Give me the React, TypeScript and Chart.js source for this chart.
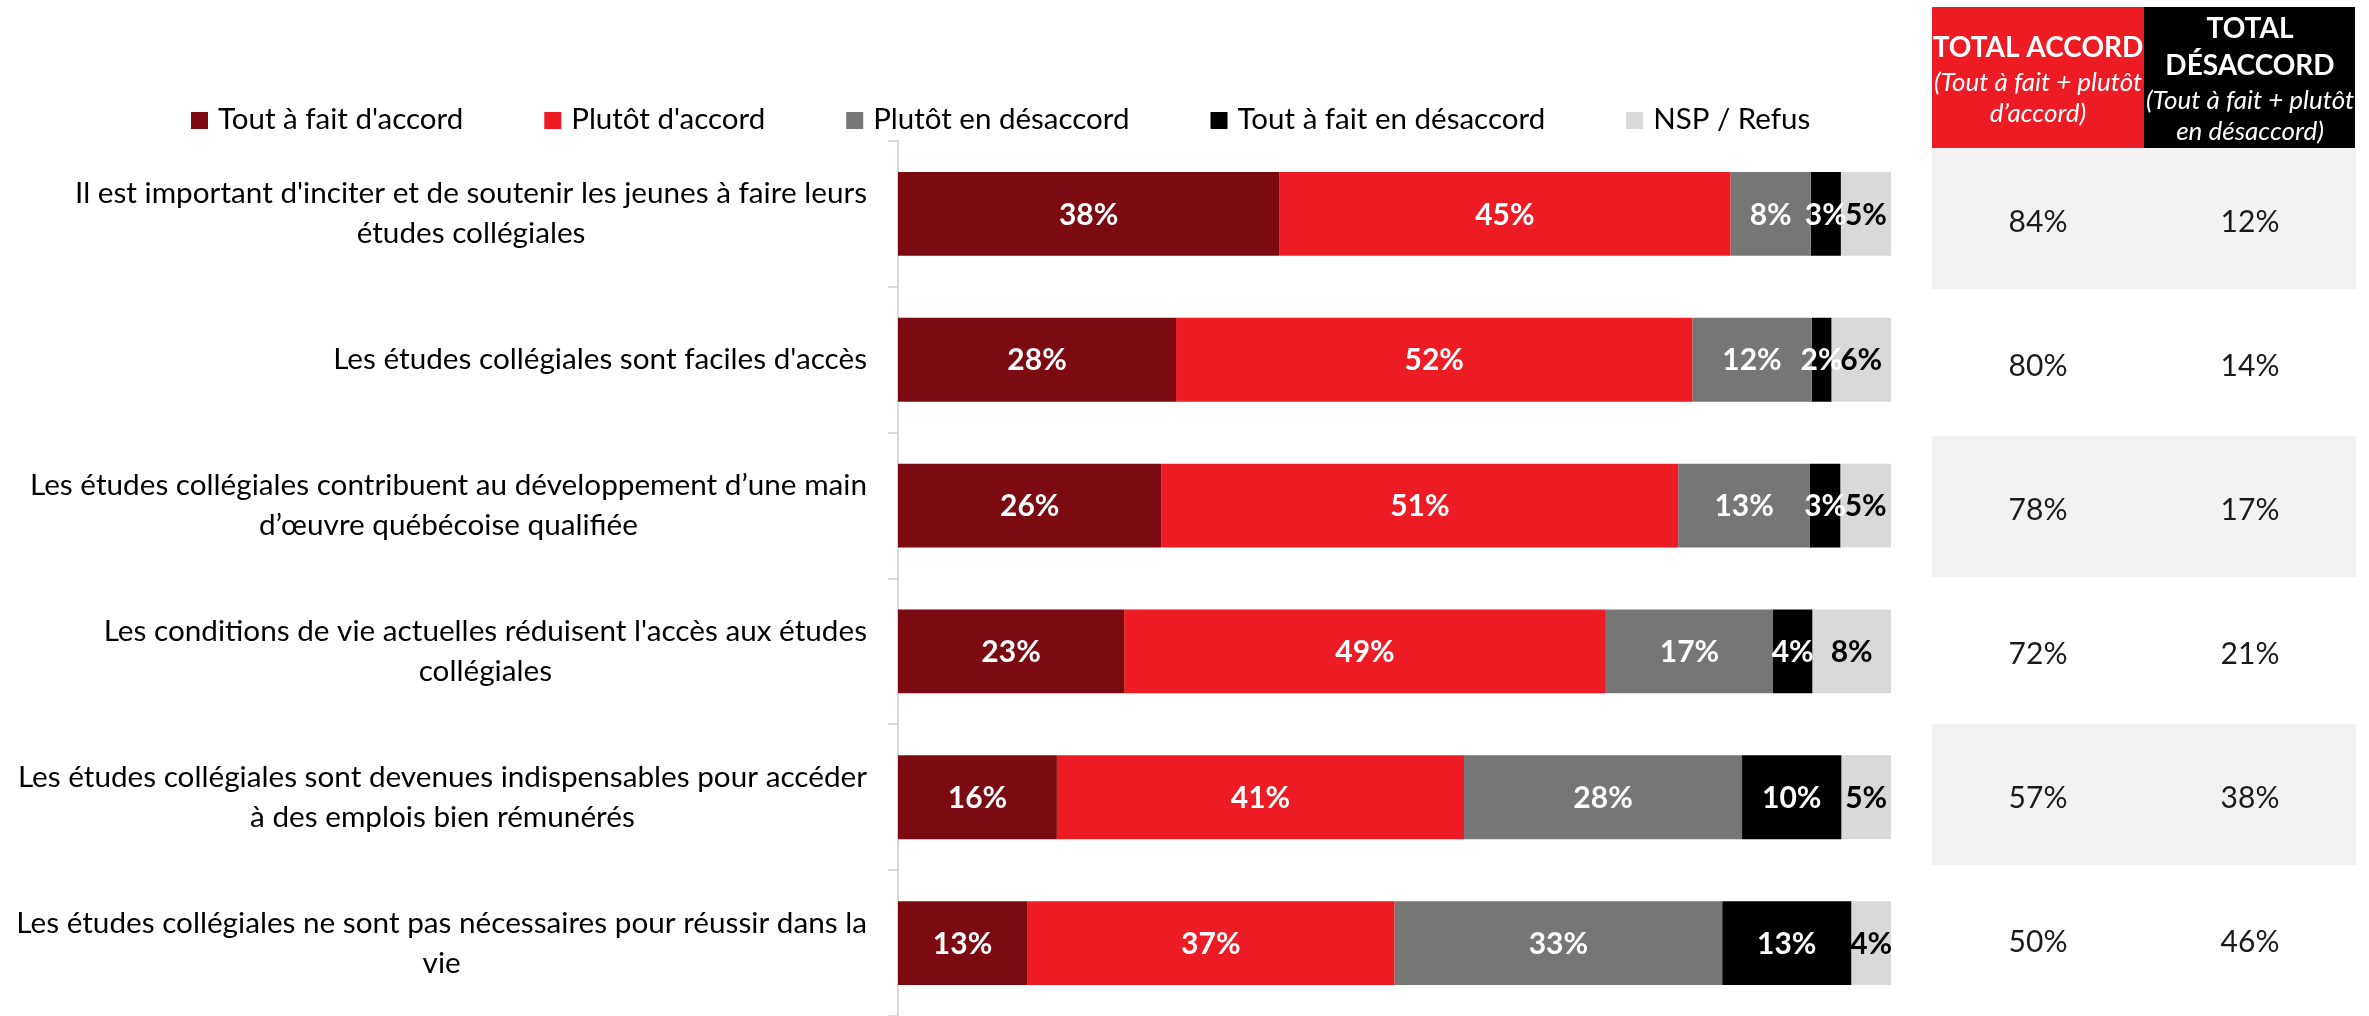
import React, { useEffect, useRef } from "react";
import { Chart, registerables } from "chart.js";

Chart.register(...registerables);

const categories: string[][] = [
  ["Il est important d'inciter et de soutenir les jeunes à faire leurs", "études collégiales"],
  ["Les études collégiales sont faciles d'accès"],
  ["Les études collégiales contribuent au développement d’une main", "d’œuvre québécoise qualifiée"],
  ["Les conditions de vie actuelles réduisent l'accès aux études", "collégiales"],
  ["Les études collégiales sont devenues indispensables pour accéder", "à des emplois bien rémunérés"],
  ["Les études collégiales ne sont pas nécessaires pour réussir dans la", "vie"],
];

const seriesNames = [
  "Tout à fait d'accord",
  "Plutôt d'accord",
  "Plutôt en désaccord",
  "Tout à fait en désaccord",
  "NSP / Refus",
];

const toutAFaitDAccord = [38, 28, 26, 23, 16, 13];
const plutotDAccord = [45, 52, 51, 49, 41, 37];
const plutotEnDesaccord = [8, 12, 13, 17, 28, 33];
const toutAFaitEnDesaccord = [3, 2, 3, 4, 10, 13];
const nspRefus = [5, 6, 5, 8, 5, 4];

const totalAccord = [84, 80, 78, 72, 57, 50];
const totalDesaccord = [12, 14, 17, 21, 38, 46];

const seriesColors = ["#7B0B10", "#ED1C24", "#767676", "#000000", "#D9D9D9"];
const labelColors = ["#FFFFFF", "#FFFFFF", "#FFFFFF", "#FFFFFF", "#000000"];

const FONT = "Lato, 'Noto Sans', sans-serif";
const W = 2369;
const H = 1016;

export default function App() {
  const ref = useRef<HTMLCanvasElement | null>(null);

  useEffect(() => {
    if (!ref.current) return;
    const series = [toutAFaitDAccord, plutotDAccord, plutotEnDesaccord, toutAFaitEnDesaccord, nspRefus];
    const rowTotals = categories.map((_, i) => series.reduce((s, arr) => s + arr[i], 0));

    const datasets = series.map((vals, k) => ({
      label: seriesNames[k],
      data: vals.map((v, i) => (v / rowTotals[i]) * 100),
      backgroundColor: seriesColors[k],
      borderWidth: 0,
      barPercentage: 0.575,
      categoryPercentage: 1,
    }));

    const yLabelsPlugin = {
      id: "yLabels",
      afterDraw(chart: any) {
        const ctx = chart.ctx;
        const ys = chart.scales.y;
        ctx.save();
        ctx.font = `29.7px ${FONT}`;
        ctx.fillStyle = "#000000";
        ctx.textAlign = "center";
        ctx.textBaseline = "middle";
        const right = chart.chartArea.left - 31;
        categories.forEach((lines, i) => {
          const cy = ys.getPixelForValue(i);
          const w = Math.max(...lines.map((l) => ctx.measureText(l).width));
          const cx = right - w / 2;
          lines.forEach((l, j) => {
            ctx.fillText(l, cx, cy + (j - (lines.length - 1) / 2) * 40);
          });
        });
        ctx.restore();
      },
    };

    const dataLabelsPlugin = {
      id: "dataLabels",
      afterDatasetsDraw(chart: any) {
        const ctx = chart.ctx;
        ctx.save();
        ctx.font = `bold 30px ${FONT}`;
        ctx.textAlign = "center";
        ctx.textBaseline = "middle";
        chart.data.datasets.forEach((_: any, k: number) => {
          const meta = chart.getDatasetMeta(k);
          ctx.fillStyle = labelColors[k];
          meta.data.forEach((bar: any, i: number) => {
            const p = bar.getProps(["x", "y", "base"], true);
            ctx.fillText(series[k][i] + "%", (p.x + p.base) / 2, p.y + 1);
          });
        });
        ctx.restore();
      },
    };

    const legendPlugin = {
      id: "customLegend",
      afterDraw(chart: any) {
        const ctx = chart.ctx;
        ctx.save();
        ctx.font = `29.5px ${FONT}`;
        ctx.textAlign = "left";
        ctx.textBaseline = "middle";
        let x = 191;
        chart.data.datasets.forEach((ds: any) => {
          ctx.fillStyle = ds.backgroundColor;
          ctx.fillRect(x, 112, 17, 17);
          ctx.fillStyle = "#000000";
          ctx.fillText(ds.label, x + 27, 119);
          x += 27 + ctx.measureText(ds.label).width + 81;
        });
        ctx.restore();
      },
    };

    const tablePlugin = {
      id: "totalsTable",
      afterDraw(chart: any) {
        const ctx = chart.ctx;
        const c1 = 1932, c2 = 2144, c3 = 2356;
        const top = 148, rowH = 144;
        ctx.save();
        ctx.fillStyle = "#ED1C24";
        ctx.fillRect(c1, 7, c2 - c1, top - 7);
        ctx.fillStyle = "#000000";
        ctx.fillRect(c2, 7, c3 - c2 - 1, top - 7);
        ctx.textAlign = "center";
        ctx.textBaseline = "middle";
        ctx.fillStyle = "#FFFFFF";
        const m1 = (c1 + c2) / 2, m2 = (c2 + c3) / 2;
        ctx.save();
        ctx.beginPath();
        ctx.rect(c1, 7, c2 - c1, top - 7);
        ctx.clip();
        ctx.font = `bold 28px ${FONT}`;
        ctx.fillText("TOTAL ACCORD", m1, 48);
        ctx.font = `italic 26px ${FONT}`;
        ctx.fillText("(Tout à fait + plutôt", m1, 83);
        ctx.fillText("d’accord)", m1, 114);
        ctx.restore();
        ctx.save();
        ctx.beginPath();
        ctx.rect(c2, 7, c3 - c2, top - 7);
        ctx.clip();
        ctx.font = `bold 28px ${FONT}`;
        ctx.fillText("TOTAL", m2, 29);
        ctx.fillText("DÉSACCORD", m2, 66);
        ctx.font = `italic 26px ${FONT}`;
        ctx.fillText("(Tout à fait + plutôt", m2, 101);
        ctx.fillText("en désaccord)", m2, 132);
        ctx.restore();
        categories.forEach((_, i) => {
          const y0 = top + i * rowH;
          if (i % 2 === 0) {
            ctx.fillStyle = "#F2F2F2";
            ctx.fillRect(c1, y0, c3 - c1, rowH - 3);
          }
          ctx.fillStyle = "#1A1A1A";
          ctx.font = `30px ${FONT}`;
          const cy = y0 + 74;
          ctx.fillText(totalAccord[i] + "%", 2038, cy);
          ctx.fillText(totalDesaccord[i] + "%", 2250, cy);
        });
        ctx.restore();
      },
    };

    const chart = new Chart(ref.current, {
      type: "bar",
      data: { labels: categories.map((c) => c.join(" ")), datasets: datasets as any },
      options: {
        indexAxis: "y",
        responsive: false,
        animation: false,
        devicePixelRatio: 1,
        layout: { padding: { left: 0, right: W - 1891, top: 141, bottom: 0 } },
        scales: {
          x: { stacked: true, min: 0, max: 100, display: false },
          y: {
            stacked: true,
            grid: { drawOnChartArea: false, color: "#D9D9D9", lineWidth: 2, tickLength: 10 },
            border: { display: true, color: "#D9D9D9", width: 2 },
            ticks: { display: false },
            afterFit: (scale: any) => {
              scale.width = 898;
            },
          },
        },
        plugins: {
          legend: { display: false },
          tooltip: { enabled: false },
        },
      } as any,
      plugins: [yLabelsPlugin, dataLabelsPlugin, legendPlugin, tablePlugin],
    });

    return () => chart.destroy();
  }, []);

  return (
    <div style={{ position: "fixed", left: 0, top: 0, width: W, height: H, background: "#FFFFFF" }}>
      <canvas ref={ref} width={W} height={H} style={{ width: W, height: H, display: "block" }} />
    </div>
  );
}
